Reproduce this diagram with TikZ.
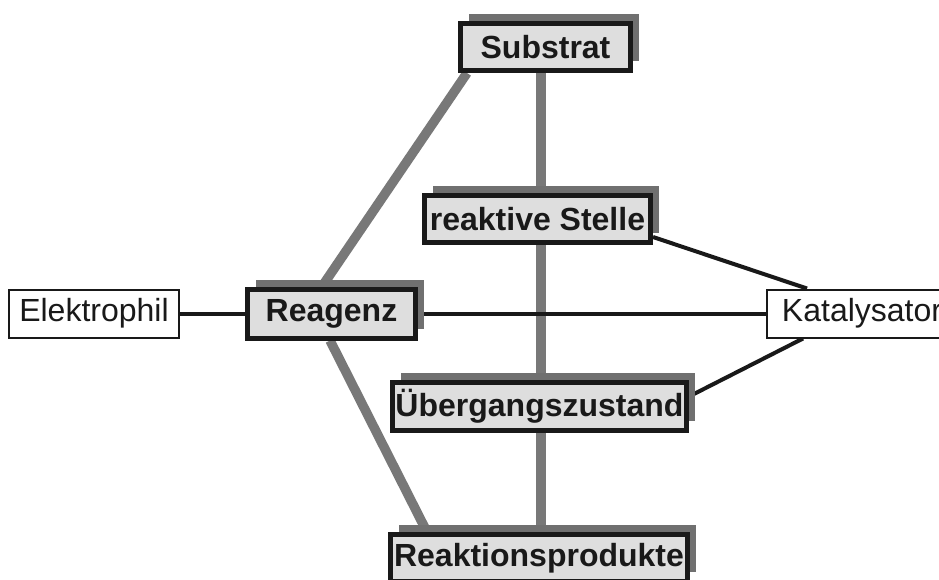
\documentclass[tikz,border=0pt]{standalone}
\usepackage{fontspec}
\setmainfont{Liberation Sans}
\usetikzlibrary{shadows,calc}
\pgfdeclarelayer{background}
\pgfsetlayers{background,main}
\definecolor{shgray}{RGB}{112,112,112}
\definecolor{lngray}{RGB}{120,120,120}
\definecolor{boxfill}{RGB}{222,222,222}
\definecolor{ink}{RGB}{25,25,25}
\begin{document}
\begin{tikzpicture}[x=1pt,y=-1pt,
  mainbox/.style={draw=ink, line width=5pt, fill=boxfill, inner sep=0pt,
    font=\fontsize{32}{36}\selectfont\bfseries, text=ink,
    drop shadow={shadow xshift=8.5pt, shadow yshift=9.5pt, fill=shgray, opacity=1}},
  sidebox/.style={draw=ink, line width=2pt, fill=white, inner sep=0pt,
    font=\fontsize{32}{36}\selectfont, text=ink},
  thickline/.style={draw=lngray, line width=9.5pt},
  thinline/.style={draw=ink, line width=4pt}]
\useasboundingbox (0,0) rectangle (939,579);

\node[mainbox, minimum width=170pt, minimum height=47pt] (sub) at (545.5,47) {Substrat};
\node[mainbox, minimum width=226pt, minimum height=47pt] (rs) at (537.5,219) {reaktive Stelle};
\node[mainbox, minimum width=168pt, minimum height=49pt] (rea) at (331.5,313.5) {Reagenz};
\node[mainbox, minimum width=294pt, minimum height=48pt] (ueb) at (539.5,406.5) {Übergangszustand};
\node[mainbox, minimum width=297pt, minimum height=47pt] (rp) at (539,558) {Reaktionsprodukte};
\node[sidebox, minimum width=170pt, minimum height=48pt] (el) at (94,313.5) {Elektrophil};
\node[sidebox, minimum width=190pt, minimum height=48pt] (kat) at (862,313.5) {Katalysator};

\begin{pgfonlayer}{background}
\fill[white] (0,0) rectangle (939,579);
\draw[thickline] ([xshift=-4.5pt]sub.center) -- ([xshift=3.5pt]rs.center);
\draw[thickline] ([xshift=3.5pt]rs.center) -- ([xshift=1.5pt]ueb.center);
\draw[thickline] ([xshift=1.5pt]ueb.center) -- ([xshift=2pt]rp.center);
\draw[thickline] ([xshift=-9.5pt]rea.north) -- ([xshift=-78.5pt]sub.south);
\draw[thickline] ([xshift=-1.5pt]rea.south) -- ([xshift=-112pt]rp.north);
\draw[thinline] (el) -- (rea);
\draw[thinline] (rea) -- (kat);
\draw[thinline] ([yshift=-18pt]rs.east) -- ([xshift=-55pt]kat.north);
\draw[thinline] ([yshift=10pt]ueb.east) -- ([xshift=-59pt]kat.south);
\end{pgfonlayer}
\end{tikzpicture}
\end{document}
